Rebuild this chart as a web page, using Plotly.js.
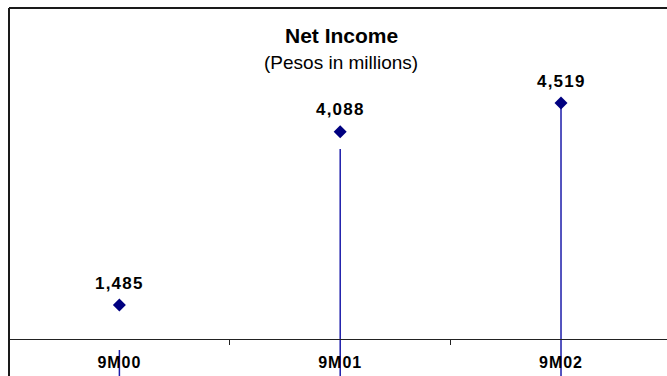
<!DOCTYPE html>
<html>
<head>
<meta charset="utf-8">
<script src="https://cdn.plot.ly/plotly-3.0.1.min.js"></script>
<style>
  html, body { margin: 0; padding: 0; background: #ffffff; }
  #chart { width: 667px; height: 376px; }
  /* slightly spaced-out numerals for period names and value labels */
  #chart g.xtick text { letter-spacing: 1px; }
  #chart g.annotation:not([data-index="0"]):not([data-index="1"]) text.annotation-text { letter-spacing: 1.2px; }
</style>
</head>
<body>
<div id="chart"></div>
<script>
// Net income by period (Pesos in millions)
const periods = ['9M00', '9M01', '9M02'];
const netIncome = [1485, 4088, 4519];

// Upper ends of the vertical stems drawn under each period; they run down past the axis
const stemTop = [810, 3830, 4445];
const stemBase = [0, 0, 0];

const FONT = 'Liberation Sans, Arial, sans-serif';

// Stems: one segment per period, separated by gaps
const stemX = [];
const stemY = [];
periods.forEach((p, i) => {
  stemX.push(p, p, null);
  stemY.push(stemTop[i], stemBase[i], null);
});

const traces = [
  {
    type: 'scatter',
    mode: 'lines',
    x: stemX,
    y: stemY,
    line: { color: '#1c1caa', width: 1.5 },
    hoverinfo: 'skip',
    showlegend: false
  },
  {
    type: 'scatter',
    mode: 'markers',
    x: periods,
    y: netIncome,
    marker: { symbol: 'diamond', size: 10, color: '#000080' },
    cliponaxis: false,
    showlegend: false
  }
];

const valueLabels = periods.map((p, i) => ({
  x: p,
  y: netIncome[i],
  xref: 'x',
  yref: 'y',
  text: netIncome[i].toLocaleString('en-US'),
  showarrow: false,
  yshift: 22,
  font: { family: FONT, size: 17, color: '#000000', weight: 'bold' }
}));

const layout = {
  width: 667,
  height: 376,
  margin: { l: 9, r: 0, t: 8, b: 0, pad: 0 },
  paper_bgcolor: '#ffffff',
  plot_bgcolor: '#ffffff',
  showlegend: false,
  xaxis: {
    type: 'category',
    range: [-0.5, 2.48],
    anchor: 'free',
    position: 0.1,
    showline: true,
    linecolor: '#222222',
    linewidth: 1.2,
    showgrid: false,
    zeroline: false,
    ticks: 'outside',
    tickson: 'boundaries',
    ticklen: 5,
    tickwidth: 1,
    tickcolor: '#222222',
    ticklabelstandoff: 8,
    tickfont: { family: FONT, size: 16, color: '#000000', weight: 'bold' },
    fixedrange: true
  },
  yaxis: {
    range: [419, 5946],
    visible: false,
    fixedrange: true
  },
  shapes: [
    // chart frame: left and top edges
    { type: 'line', xref: 'paper', yref: 'paper', x0: 0, x1: 0, y0: -0.05, y1: 1,
      line: { color: '#1a1a1a', width: 2 } },
    { type: 'line', xref: 'paper', yref: 'paper', x0: 0, x1: 1.05, y0: 1, y1: 1,
      line: { color: '#1a1a1a', width: 2 } }
  ],
  annotations: [
    {
      xref: 'paper', yref: 'paper', x: 0.5046, y: 0.926, yanchor: 'middle',
      text: '<b>Net Income</b>', showarrow: false,
      font: { family: FONT, size: 21, color: '#000000' }
    },
    {
      xref: 'paper', yref: 'paper', x: 0.5046, y: 0.853, yanchor: 'middle',
      text: '(Pesos in millions)', showarrow: false,
      font: { family: FONT, size: 19, color: '#000000' }
    }
  ].concat(valueLabels)
};

Plotly.newPlot('chart', traces, layout, { displayModeBar: false, staticPlot: true });
</script>
</body>
</html>
